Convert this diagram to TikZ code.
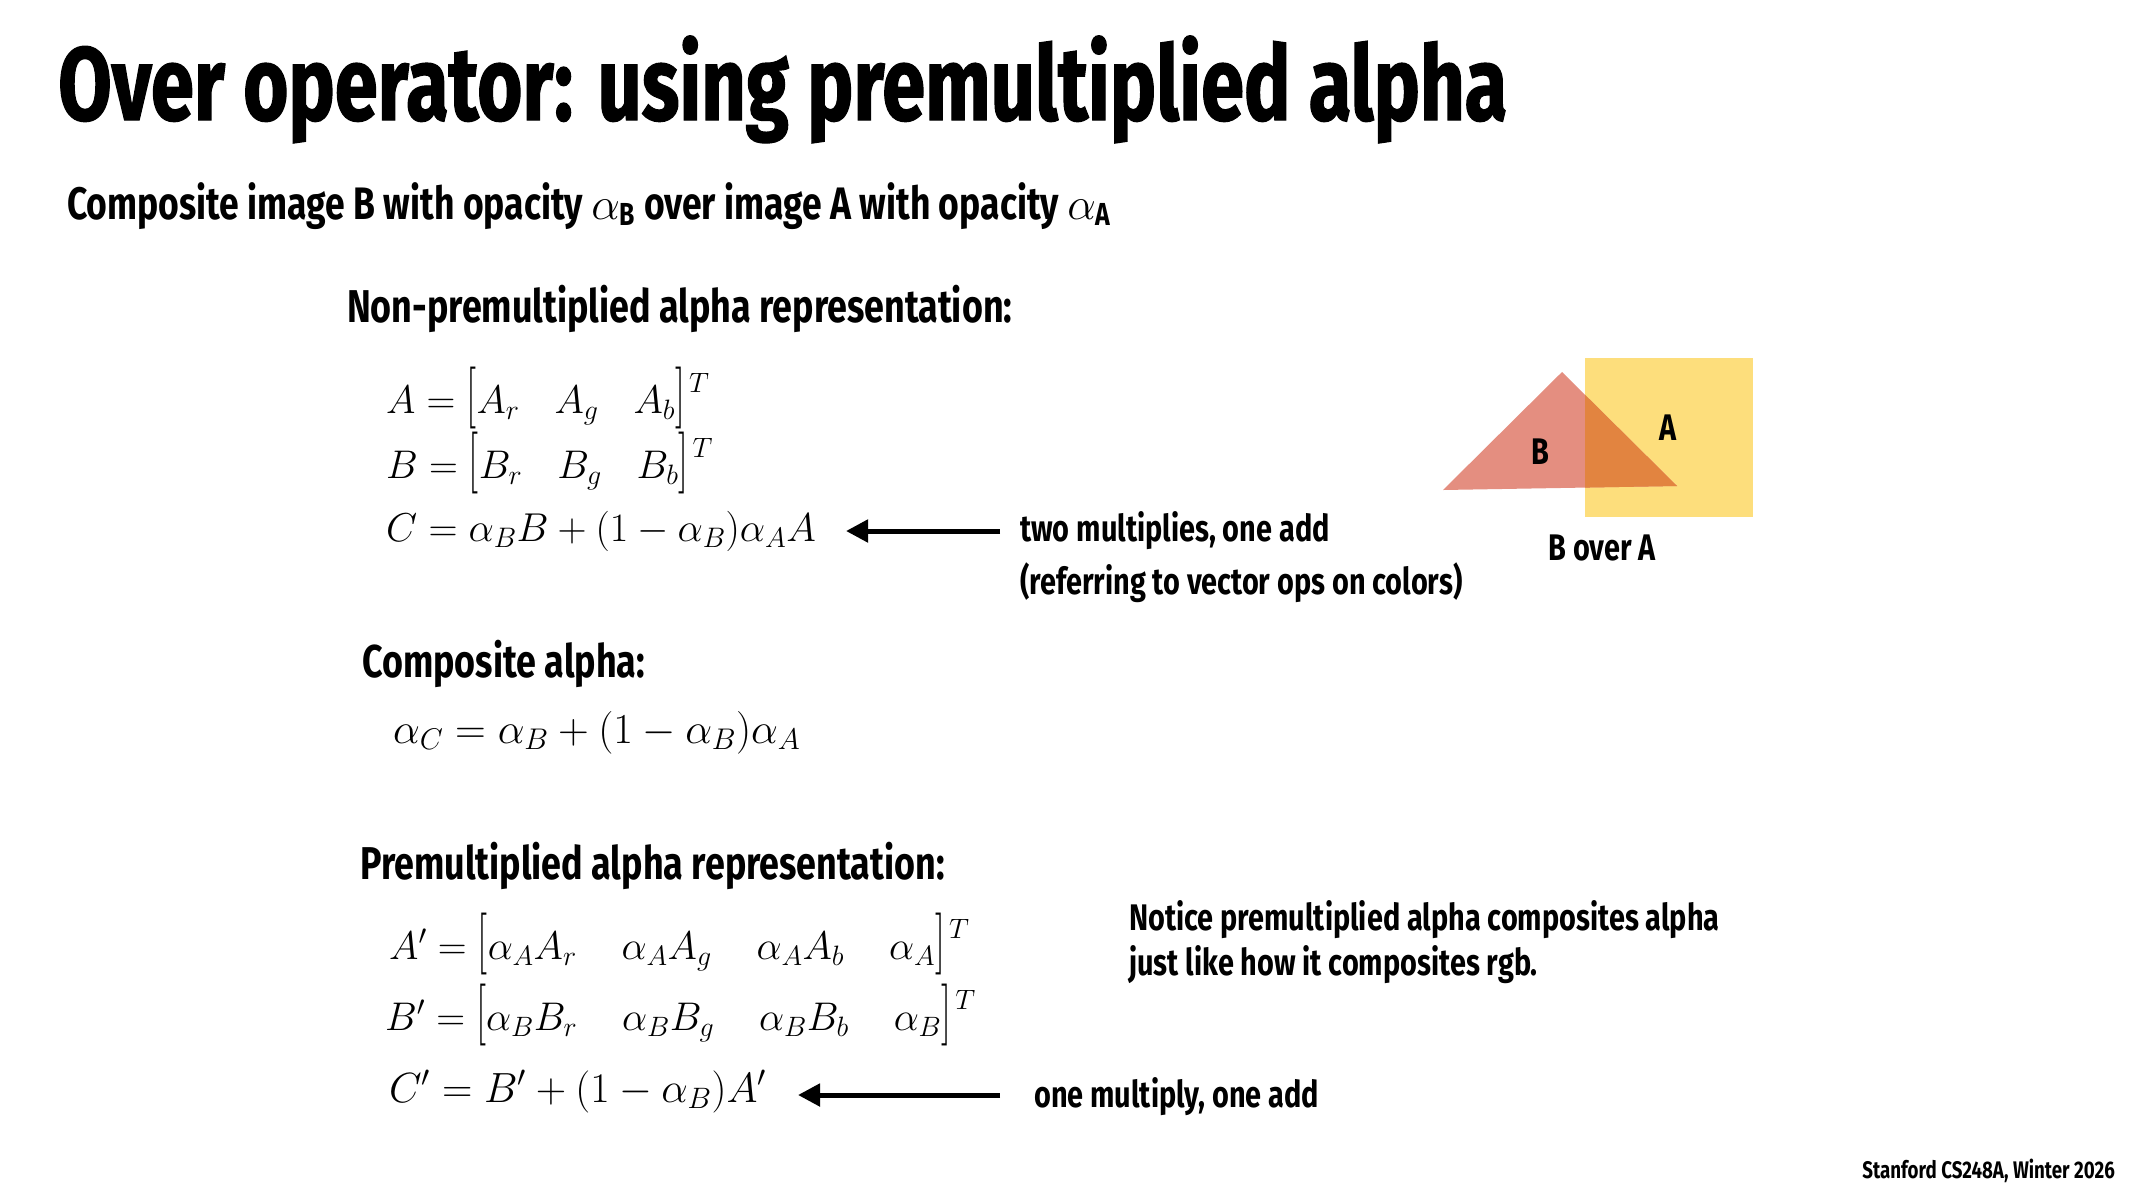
\RequirePackage{fix-cm}
\documentclass[tikz,border=0pt]{standalone}
\usepackage{amsmath}
\usepackage{fontspec}
\newfontfamily\cond{Fira Sans}[FakeStretch=0.78]
\newfontfamily\condT{Fira Sans}[FakeStretch=0.746, FakeBold=1.2]
\definecolor{sqyellow}{RGB}{253,222,124}
\definecolor{trisalmon}{RGB}{228,142,128}
\definecolor{overorange}{RGB}{226,132,64}
\usetikzlibrary{arrows.meta}
\newcommand{\gp}{\hspace{35pt}}
\newcommand{\gq}{\hspace{45pt}}
\newcommand{\lbk}{\mathopen{\scalebox{1}[1.55]{$[$}}}
\newcommand{\rbk}{\mathclose{\scalebox{1}[1.55]{$]$}}\mathclose{\hspace{4pt}\raisebox{21pt}{$\scriptstyle T$}}}
\tikzset{
  txt/.style={anchor=base west, inner sep=0pt, font=\cond\bfseries\fontsize{#1}{#1}\selectfont},
  eqn/.style={anchor=base west, inner sep=0pt, font=\fontsize{#1}{#1}\selectfont},
  bigarrow/.style={line width=5pt, -{Triangle[length=22pt,width=22pt]}},
}
\begin{document}
\begin{tikzpicture}[x=1pt,y=-1pt]
\useasboundingbox (0,0) rectangle (2133,1200);
\fill[white] (0,0) rectangle (2133,1200);
% title
\node[anchor=base west, inner sep=0pt, font=\condT\bfseries\fontsize{104}{104}\selectfont] (title) at (58,120) {Over operator: using premultiplied alpha};
\node[txt=45.5] (sub) at (67,219) {Composite image B with opacity $\alpha_{\text{B}}$ over image A with opacity $\alpha_{\text{A}}$};
% non-premultiplied
\node[txt=46] (h1) at (347,322) {Non-premultiplied alpha representation:};
\node[eqn=40] (eqA) at (386,413) {$A=\lbk A_r\gp A_g\gp A_b\rbk$};
\node[eqn=40] (eqB) at (386,478) {$B=\lbk B_r\gp B_g\gp B_b\rbk$};
\node[eqn=40.3] (eqC) at (386,541) {$C=\alpha_B B+(1-\alpha_B)\alpha_A A$};
\node[txt=37] (two) at (1020,541) {two multiplies, one add};
\node[txt=37] (refr) at (1020,594) {(referring to vector ops on colors)};
\coordinate (a1s) at (1000,531);
\coordinate (a1e) at (846,531);
\draw[bigarrow] (a1s) -- (a1e);
% figure
\fill[sqyellow] (1585,358) rectangle (1753,517);
\coordinate (t1) at (1443,490);
\coordinate (t2) at (1562,372);
\coordinate (t3) at (1677,486);
\fill[trisalmon] (t1) -- (t2) -- (t3) -- cycle;
\begin{scope}
\clip (1585,358) rectangle (1753,517);
\fill[overorange] (t1) -- (t2) -- (t3) -- cycle;
\end{scope}
\node[txt=37, anchor=center] (labA) at (1668,428) {A};
\node[txt=37, anchor=center] (labB) at (1540,452) {B};
\node[txt=37, anchor=base] (bovera) at (1602,560) {B over A};
% composite alpha
\node[txt=46] (h2) at (362,677) {Composite alpha:};
\node[eqn=42.7] (eqAl) at (393,743) {$\alpha_C=\alpha_B+(1-\alpha_B)\alpha_A$};
% premultiplied
\node[txt=46] (h3) at (360,879) {Premultiplied alpha representation:};
\node[eqn=40] (eqAp) at (389,959) {$A'=\lbk\alpha_A A_r\gq \alpha_A A_g\gq \alpha_A A_b\gq \alpha_A\rbk$};
\node[eqn=40] (eqBp) at (385,1030) {$B'=\lbk\alpha_B B_r\gq \alpha_B B_g\gq \alpha_B B_b\gq \alpha_B\rbk$};
\node[eqn=42.2] (eqCp) at (389,1102) {$C'=B'+(1-\alpha_B)A'$};
\coordinate (a2s) at (1000,1095);
\coordinate (a2e) at (798,1095);
\draw[bigarrow] (a2s) -- (a2e);
\node[txt=37] (one) at (1034,1107) {one multiply, one add};
\node[txt=37] (not1) at (1129,930) {Notice premultiplied alpha composites alpha};
\node[txt=37] (not2) at (1129,975) {just like how it composites rgb.};
\node[txt=24, anchor=base east] (foot) at (2115,1178) {Stanford CS248A, Winter 2026};
\end{tikzpicture}
\end{document}
